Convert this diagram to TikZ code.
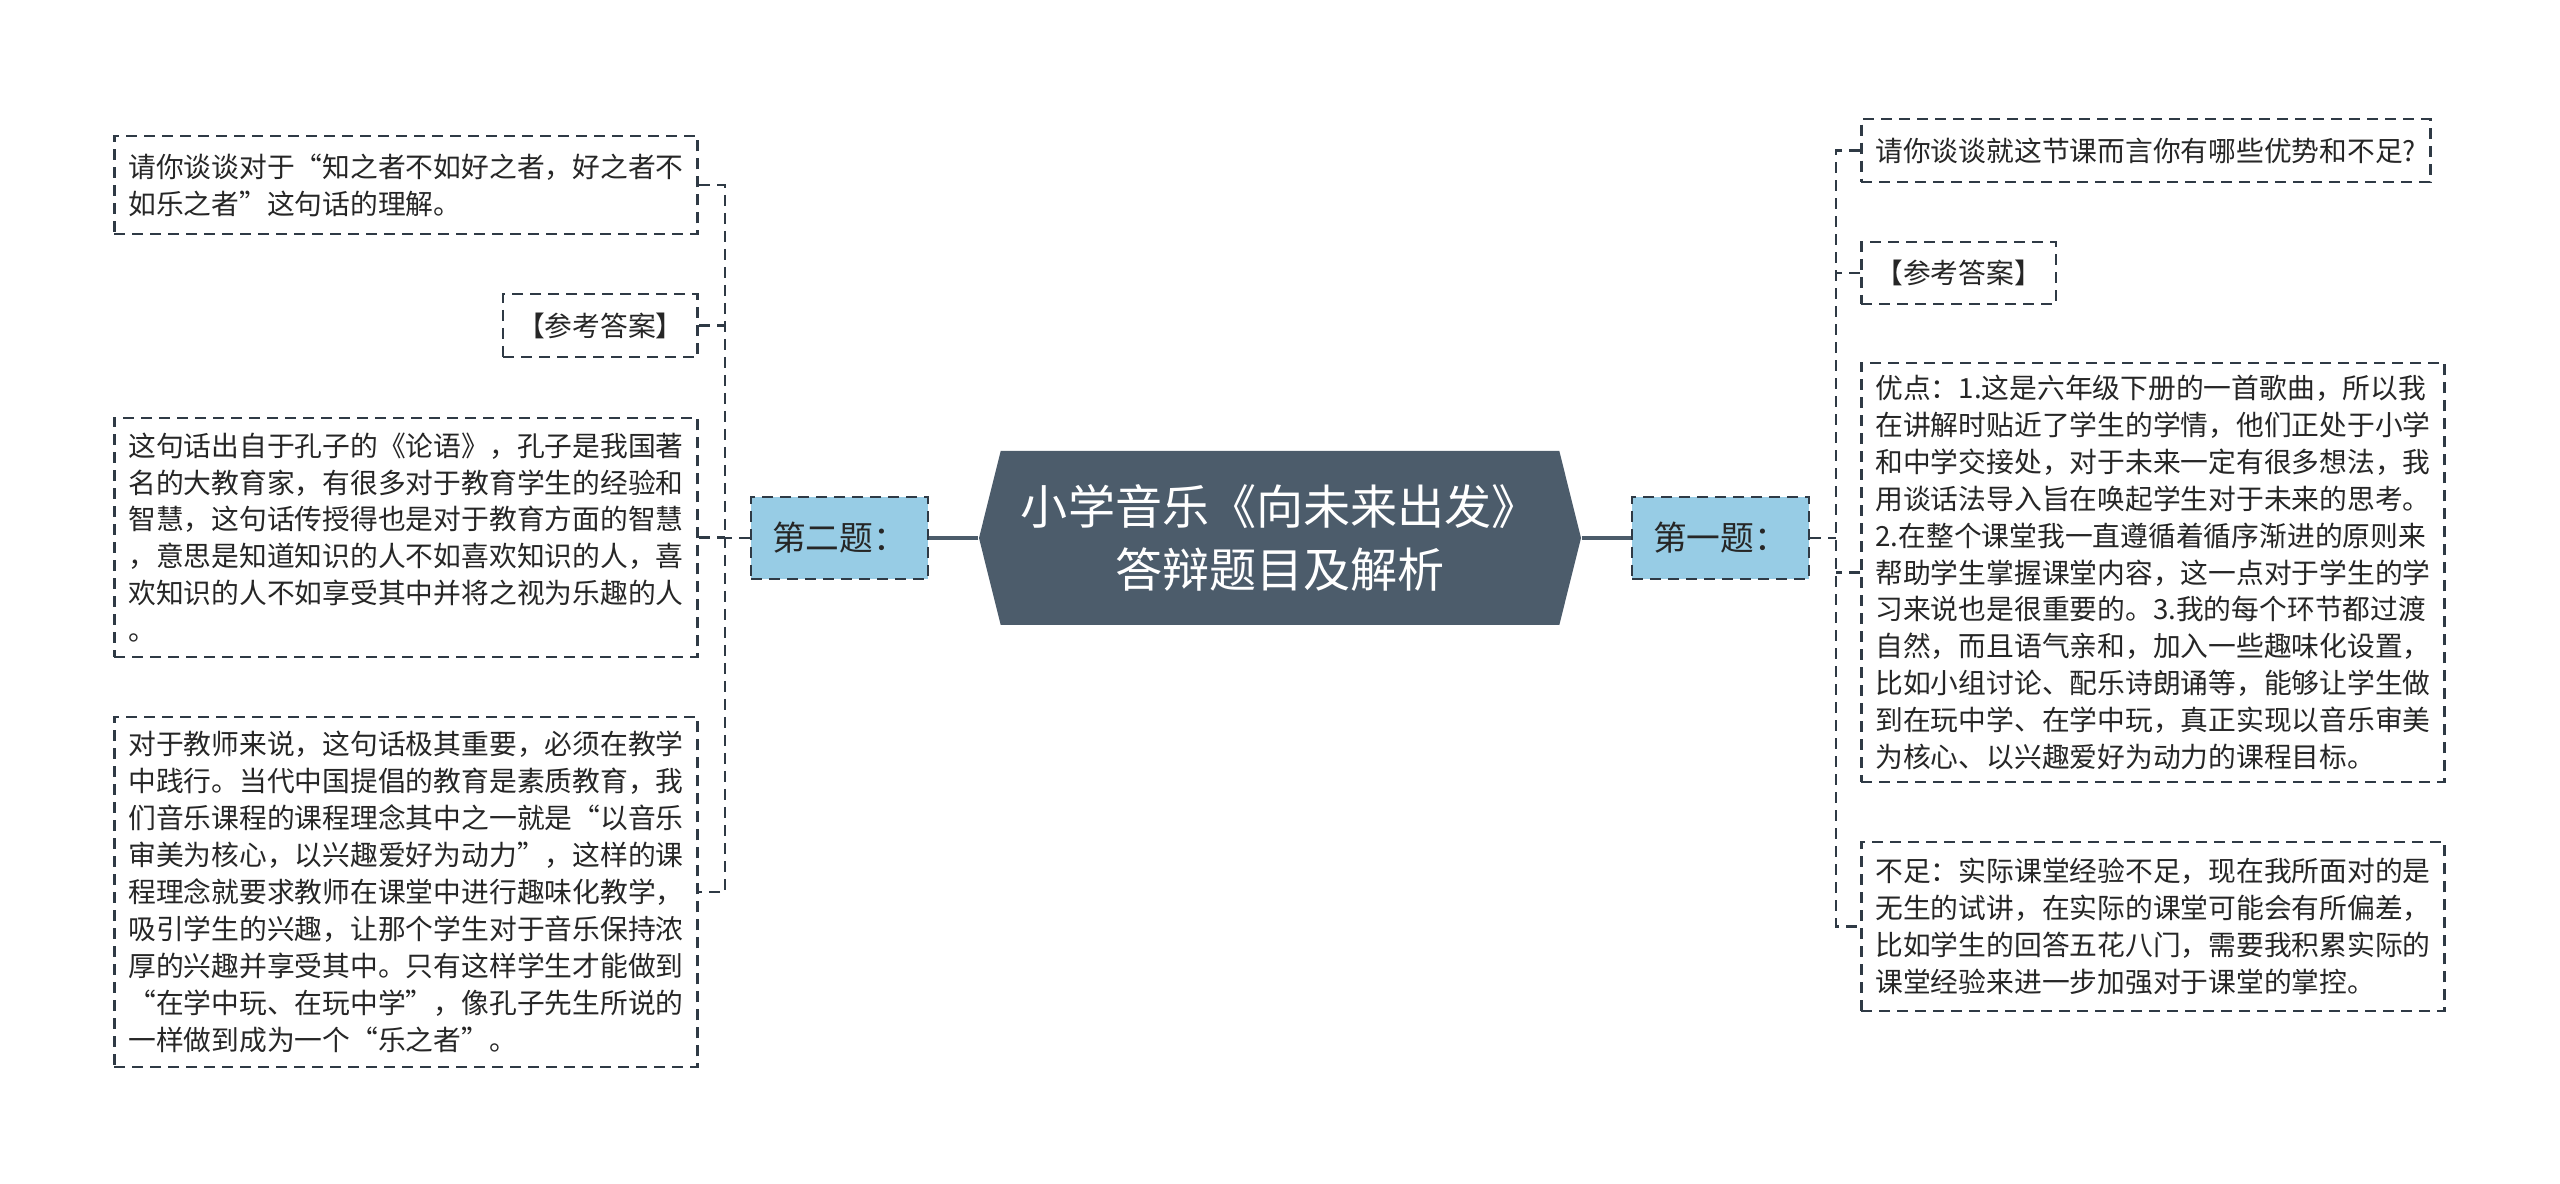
\documentclass[tikz,border=0pt]{standalone}
\usepackage{fontspec}
\setmainfont{Noto Sans CJK SC}
\usetikzlibrary{shapes.symbols}
\definecolor{titlefill}{HTML}{4C5C6B}
\definecolor{topicfill}{HTML}{97CCE5}
\definecolor{linegray}{HTML}{2F3A45}

\begin{document}
\begin{tikzpicture}[
    every node/.style={font=\fontsize{7.9pt}{10.5pt}\selectfont, text=black!85},
    title/.style={signal, signal to=west and east, signal pointer angle=152,
        fill=titlefill, text=white, align=center, inner sep=0pt,
        font=\fontsize{13.4pt}{18.1pt}\selectfont,
        minimum width=6.02cm, minimum height=1.74cm},
    topic/.style={draw=linegray, fill=topicfill, line width=0.8pt,
        dash pattern=on 1.1mm off 0.7mm, inner sep=0pt,
        font=\fontsize{9.6pt}{11pt}\selectfont,
        minimum width=1.77cm, minimum height=0.82cm},
    leaf/.style={draw=linegray, line width=0.8pt, dash pattern=on 1.1mm off 0.7mm,
        inner xsep=1.4mm, inner ysep=1mm, align=left},
    mainline/.style={draw=titlefill, line width=1.2pt},
    branch/.style={draw=linegray, line width=0.8pt, dash pattern=on 1.1mm off 0.7mm},
]
    \useasboundingbox (0,0) rectangle (25.6,11.83);

    % centre and the two questions
    \node[title] (root) at (12.80,6.45) {小学音乐《向未来出发》\\答辩题目及解析};
    \node[topic] (q2) at (8.395,6.45) {第二题：};
    \node[topic] (q1) at (17.205,6.45) {第一题：};

    % left side (second question)
    \node[leaf, anchor=east, minimum height=0.98cm] (l1) at (6.99,9.98)
        {请你谈谈对于“知之者不如好之者，好之者不\\如乐之者”这句话的理解。};
    \node[leaf, anchor=east, minimum height=0.63cm] (l2) at (6.99,8.575) {【参考答案】};
    \node[leaf, anchor=east, minimum height=2.39cm] (l3) at (6.99,6.455)
        {这句话出自于孔子的《论语》，孔子是我国著\\名的大教育家，有很多对于教育学生的经验和\\智慧，这句话传授得也是对于教育方面的智慧\\，意思是知道知识的人不如喜欢知识的人，喜\\欢知识的人不如享受其中并将之视为乐趣的人\\。};
    \node[leaf, anchor=east, minimum height=3.50cm] (l4) at (6.99,2.91)
        {对于教师来说，这句话极其重要，必须在教学\\中践行。当代中国提倡的教育是素质教育，我\\们音乐课程的课程理念其中之一就是“以音乐\\审美为核心，以兴趣爱好为动力”，这样的课\\程理念就要求教师在课堂中进行趣味化教学，\\吸引学生的兴趣，让那个学生对于音乐保持浓\\厚的兴趣并享受其中。只有这样学生才能做到\\“在学中玩、在玩中学”，像孔子先生所说的\\一样做到成为一个“乐之者”。};

    % right side (first question)
    \node[leaf, anchor=west, minimum height=0.63cm] (r1) at (18.60,10.325)
        {请你谈谈就这节课而言你有哪些优势和不足?};
    \node[leaf, anchor=west, minimum height=0.62cm] (r2) at (18.60,9.10) {【参考答案】};
    \node[leaf, anchor=west, minimum height=4.19cm] (r3) at (18.60,6.105)
        {优点：1.这是六年级下册的一首歌曲，所以我\\在讲解时贴近了学生的学情，他们正处于小学\\和中学交接处，对于未来一定有很多想法，我\\用谈话法导入旨在唤起学生对于未来的思考。\\2.在整个课堂我一直遵循着循序渐进的原则来\\帮助学生掌握课堂内容，这一点对于学生的学\\习来说也是很重要的。3.我的每个环节都过渡\\自然，而且语气亲和，加入一些趣味化设置，\\比如小组讨论、配乐诗朗诵等，能够让学生做\\到在玩中学、在学中玩，真正实现以音乐审美\\为核心、以兴趣爱好为动力的课程目标。};
    \node[leaf, anchor=west, minimum height=1.69cm] (r4) at (18.60,2.565)
        {不足：实际课堂经验不足，现在我所面对的是\\无生的试讲，在实际的课堂可能会有所偏差，\\比如学生的回答五花八门，需要我积累实际的\\课堂经验来进一步加强对于课堂的掌控。};

    % connectors
    \coordinate (ljoint) at (7.25,6.45);
    \coordinate (rjoint) at (18.36,6.45);
    \draw[mainline] (root.west) -- (q2.east);
    \draw[mainline] (root.east) -- (q1.west);
    \draw[branch] (q2.west) -- (ljoint);
    \draw[branch] (q1.east) -- (rjoint);
    \draw[branch] (l1.east) -- (l1.east -| ljoint) -- (l4.east -| ljoint) -- (l4.east);
    \draw[branch] (r1.west) -- (r1.west -| rjoint) -- (r4.west -| rjoint) -- (r4.west);
    \foreach \n in {l2,l3} \draw[branch] (\n.east) -- (\n.east -| ljoint);
    \foreach \n in {r2,r3} \draw[branch] (\n.west) -- (\n.west -| rjoint);
\end{tikzpicture}
\end{document}
